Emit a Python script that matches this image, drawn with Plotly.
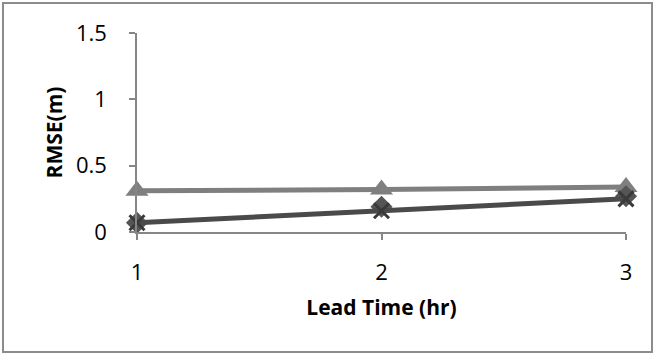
import plotly.graph_objects as go

lead_time = [1, 2, 3]
series_triangle = [0.31, 0.32, 0.34]
series_diamond = [0.07, 0.19, 0.27]
series_x = [0.07, 0.16, 0.25]
y_ticks = [0, 0.5, 1, 1.5]
y_tick_text = ["0", "0.5", "1", "1.5"]

W, H = 656, 356
L, R, T, B = 137, 30, 33, 124
pw, ph = W - L - R, H - T - B

fig = go.Figure()
fig.add_trace(go.Scatter(
    x=lead_time, y=series_triangle, mode="lines+markers",
    line=dict(color="#7f7f7f", width=5),
    marker=dict(symbol="triangle-up", size=20, color="#7f7f7f"),
    cliponaxis=False, showlegend=False))
fig.add_trace(go.Scatter(
    x=lead_time, y=series_diamond, mode="markers",
    marker=dict(symbol="diamond", size=17, color="#555555"),
    cliponaxis=False, showlegend=False))
fig.add_trace(go.Scatter(
    x=lead_time, y=series_x, mode="lines+markers",
    line=dict(color="#4a4a4a", width=5),
    marker=dict(symbol="x-thin", size=15, color="#3a3a3a",
                line=dict(width=3, color="#3a3a3a")),
    cliponaxis=False, showlegend=False))

axis_font = dict(family="Open Sans, sans-serif", size=22, color="#000000")
title_font = dict(family="Open Sans, sans-serif", size=21, color="#000000")
fig.update_xaxes(
    range=[1, 3], tickvals=lead_time, ticktext=[str(v) for v in lead_time],
    showgrid=False, zeroline=False, showline=True, linecolor="#868686", linewidth=1.5,
    ticks="outside", ticklen=6, tickcolor="#868686", tickwidth=1.5,
    tickfont=axis_font, ticklabelstandoff=14,
    title=dict(text="<b>Lead Time (hr)</b>", font=title_font, standoff=15),
)
fig.update_yaxes(
    range=[0, 1.5], tickvals=y_ticks, ticktext=y_tick_text,
    showgrid=False, zeroline=False, showline=True, linecolor="#868686", linewidth=1.5,
    ticks="outside", ticklen=6, tickcolor="#868686", tickwidth=1.5,
    tickfont=axis_font, ticklabelstandoff=18,
    title=dict(text="<b>RMSE(m)</b>", font=title_font, standoff=8),
)

# outer chart border
fig.add_shape(type="rect", xref="paper", yref="paper",
              x0=(3 - L) / pw, x1=(652 - L) / pw,
              y0=(H - B - 352) / ph, y1=(H - B - 3) / ph,
              line=dict(color="#8c8c8c", width=2), layer="below")

fig.update_layout(
    width=W, height=H,
    margin=dict(l=L, r=R, t=T, b=B, autoexpand=False),
    paper_bgcolor="white", plot_bgcolor="white",
)
fig.write_html("out.html")
